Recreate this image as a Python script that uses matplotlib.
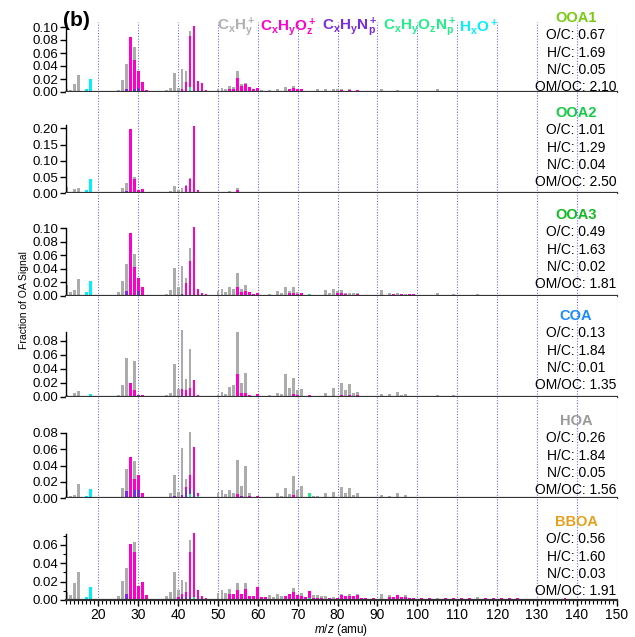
import numpy as np
import matplotlib
matplotlib.use("Agg")
import matplotlib.pyplot as plt
from matplotlib.ticker import MultipleLocator, FixedLocator

plt.rcParams['font.family'] = ['Liberation Sans', 'DejaVu Sans']
plt.rcParams['mathtext.fontset'] = 'custom'
plt.rcParams['mathtext.rm'] = 'Liberation Sans'
plt.rcParams['mathtext.bf'] = 'Liberation Sans:bold'
plt.rcParams['mathtext.it'] = 'Liberation Sans:italic'

# ---------------- data ----------------
mz = np.arange(12, 151)
factors = ['OOA1', 'OOA2', 'OOA3', 'COA', 'HOA', 'BBOA']
factor_colors = ['#77cc11', '#11cc44', '#11bb22', '#1a8cff', '#999999', '#e6a01e']
OC = [0.67, 1.01, 0.49, 0.13, 0.26, 0.56]
HC = [1.69, 1.29, 1.63, 1.84, 1.84, 1.60]
NC = [0.05, 0.04, 0.02, 0.01, 0.05, 0.03]
OMOC = [2.10, 2.50, 1.81, 1.35, 1.56, 1.91]

# segment heights per ion family (m/z: value)
OOA1_CH = {12: .005, 13: .003, 14: .012, 15: .026, 24: .001, 25: .003, 26: .018, 27: .039, 29: .020,
           37: .003, 38: .006, 39: .030, 40: .006, 41: .030, 42: .016, 43: .008, 50: .005, 51: .006,
           52: .004, 53: .005, 54: .003, 55: .011, 56: .002, 57: .002, 61: .002, 62: .002, 63: .003,
           65: .004, 66: .002, 67: .007, 69: .004, 74: .002, 75: .002, 76: .002, 77: .003, 78: .002,
           79: .003, 80: .002, 81: .002, 83: .002, 89: .001, 91: .002, 93: .001, 95: .001, 105: .002,
           115: .001}
OOA1_CHO = {28: .085, 29: .045, 30: .026, 31: .015, 32: .003, 41: .005, 42: .015, 43: .078, 44: .099,
            45: .017, 46: .014, 47: .003, 53: .005, 54: .005, 55: .022, 56: .010, 57: .012, 58: .008,
            59: .004, 60: .006, 61: .001, 68: .004, 69: .006, 70: .004, 71: .004, 72: .002, 75: .002,
            77: .002, 79: .002, 80: .002, 81: .003, 82: .002, 83: .003, 84: .002, 85: .003, 87: .002,
            91: .002, 95: .002, 97: .002, 99: .001, 101: .001, 105: .002, 107: .002, 109: .001,
            111: .001, 113: .001, 117: .001, 121: .001, 125: .001, 129: .001, 133: .001, 137: .001,
            141: .001, 145: .001, 149: .001}
OOA1_CHN = {27: .004, 29: .005, 30: .006, 42: .001, 43: .001, 44: .002}
OOA1_CHON = {43: .007, 44: .001, 73: .002}
OOA1_HO = {16: .001, 17: .005, 18: .020}

OOA2_CH = {12: .018, 13: .004, 14: .013, 15: .016, 25: .002, 26: .017, 27: .025, 29: .007, 37: .003,
           38: .007, 39: .023, 40: .009, 41: .014, 42: .003, 43: .002, 50: .003, 51: .003, 52: .002,
           53: .003, 54: .004, 55: .005, 57: .001, 65: .002, 67: .002, 69: .002, 77: .002, 79: .002,
           81: .002, 91: .002}
OOA2_CHO = {28: .197, 29: .043, 30: .009, 31: .012, 32: .002, 41: .002, 42: .022, 43: .041, 44: .205,
            45: .010, 46: .002, 53: .003, 55: .010, 56: .004, 57: .004, 58: .003, 59: .002, 60: .004,
            69: .003, 71: .002, 81: .002, 83: .002, 85: .002, 95: .001, 97: .001, 105: .001, 109: .001}
OOA2_CHN = {27: .007, 30: .002, 41: .001, 44: .002}
OOA2_CHON = {43: .004}
OOA2_HO = {17: .010, 18: .044}

OOA3_CH = {12: .016, 13: .005, 14: .008, 15: .025, 25: .005, 26: .022, 27: .040, 29: .019, 37: .002,
           38: .008, 39: .041, 40: .013, 41: .042, 42: .008, 43: .019, 50: .007, 51: .009, 52: .005,
           53: .013, 54: .009, 55: .022, 56: .005, 57: .009, 61: .001, 63: .002, 65: .006, 66: .003,
           67: .012, 68: .004, 69: .009, 70: .003, 77: .008, 78: .004, 79: .009, 80: .003, 81: .005,
           82: .002, 83: .004, 84: .002, 85: .001, 91: .008, 93: .003, 95: .003, 97: .002, 105: .003,
           109: .002, 115: .002}
OOA3_CHO = {28: .093, 29: .042, 30: .020, 31: .013, 32: .001, 42: .018, 43: .051, 44: .100, 45: .009,
            46: .003, 47: .002, 55: .012, 56: .005, 57: .006, 58: .005, 59: .002, 60: .004, 68: .003,
            69: .004, 70: .002, 71: .004, 72: .001, 80: .003, 81: .003, 82: .002, 84: .001, 85: .002,
            86: .001, 87: .001, 94: .002, 96: .002, 98: .002, 99: .002, 105: .001, 111: .001}
OOA3_CHN = {27: .006, 30: .006, 41: .002, 44: .001}
OOA3_CHON = {73: .002}
OOA3_HO = {16: .001, 17: .005, 18: .022}

COA_CH = {12: .002, 13: .001, 14: .005, 15: .008, 25: .002, 26: .017, 27: .056, 29: .041, 37: .003,
          38: .006, 39: .047, 40: .011, 41: .084, 42: .016, 43: .055, 50: .003, 51: .007, 52: .004,
          53: .014, 54: .017, 55: .060, 56: .014, 57: .028, 63: .002, 65: .006, 66: .004, 67: .032,
          68: .012, 69: .023, 70: .007, 71: .011, 77: .005, 79: .012, 81: .018, 82: .010, 83: .016,
          84: .006, 85: .004, 91: .004, 93: .004, 95: .006, 96: .003, 97: .004, 105: .002, 109: .002}
COA_CHO = {28: .019, 29: .010, 31: .003, 41: .009, 42: .009, 43: .013, 44: .024, 45: .003, 55: .033,
           56: .006, 57: .006, 58: .002, 60: .004, 69: .004, 70: .002, 73: .003, 81: .002, 83: .002,
           85: .002, 95: .001}
COA_CHN = {30: .003, 41: .002}
COA_CHON = {}
COA_HO = {17: .001, 18: .004}

HOA_CH = {12: .010, 13: .003, 14: .004, 15: .017, 25: .001, 26: .012, 27: .027, 29: .023, 36: .002,
          37: .002, 38: .006, 39: .026, 40: .006, 41: .057, 42: .010, 43: .053, 50: .007, 51: .010,
          52: .005, 53: .008, 54: .006, 55: .042, 56: .012, 57: .039, 58: .003, 59: .002, 61: .001,
          62: .002, 63: .002, 65: .006, 66: .003, 67: .013, 68: .005, 69: .023, 70: .010, 71: .015,
          74: .003, 75: .003, 77: .006, 79: .008, 81: .012, 82: .006, 83: .010, 84: .004, 85: .006,
          91: .004, 93: .003, 95: .005, 97: .004, 105: .002, 109: .002}
HOA_CHO = {28: .050, 29: .013, 30: .018, 31: .006, 42: .004, 43: .015, 44: .054, 45: .003, 53: .002,
           55: .003, 58: .003, 60: .003, 69: .004, 81: .002, 83: .002, 95: .001}
HOA_CHN = {27: .009, 29: .010, 30: .010, 39: .003, 40: .002, 41: .004, 42: .010, 43: .008, 44: .008,
           55: .002, 56: .003}
HOA_CHON = {43: .005, 45: .003, 73: .007}
HOA_HO = {17: .003, 18: .011}

BBOA_CH = {12: .009, 13: .005, 14: .018, 15: .031, 25: .004, 26: .021, 27: .029, 29: .011, 37: .004,
           38: .009, 39: .031, 40: .008, 41: .015, 42: .011, 43: .013, 50: .008, 51: .011, 52: .008,
           53: .006, 55: .008, 57: .007, 63: .005, 64: .003, 65: .006, 66: .004, 69: .004, 71: .004,
           74: .003, 75: .003, 76: .002, 77: .004, 79: .003, 81: .002, 83: .002, 85: .002, 91: .006,
           93: .002, 97: .002, 105: .002, 115: .003}
BBOA_CHO = {28: .061, 29: .052, 30: .015, 31: .020, 32: .005, 40: .003, 41: .004, 42: .006, 43: .049,
            44: .070, 45: .011, 46: .004, 47: .002, 53: .006, 54: .006, 55: .011, 56: .007, 57: .012,
            58: .004, 59: .004, 60: .014, 61: .003, 62: .003, 67: .004, 68: .007, 69: .009, 70: .005,
            71: .004, 72: .003, 73: .008, 74: .002, 75: .002, 76: .002, 78: .002, 80: .002, 81: .005,
            82: .004, 83: .004, 84: .004, 85: .005, 86: .002, 87: .002, 89: .002, 93: .003, 94: .003,
            95: .005, 96: .003, 97: .003, 98: .002, 99: .002, 101: .002, 103: .002, 107: .002,
            109: .002, 111: .002, 113: .002, 117: .002, 119: .002, 121: .002, 123: .002, 125: .002,
            127: .001, 129: .001, 131: .001, 133: .001, 135: .001, 137: .002, 139: .001, 141: .001,
            143: .001, 145: .001, 147: .001, 149: .001}
BBOA_CHN = {27: .006, 41: .003, 42: .003, 43: .003}
BBOA_CHON = {44: .003, 73: .002}
BBOA_HO = {16: .001, 17: .003, 18: .014}

panels = [
    (OOA1_CHON, OOA1_CHN, OOA1_CHO, OOA1_CH, OOA1_HO),
    (OOA2_CHON, OOA2_CHN, OOA2_CHO, OOA2_CH, OOA2_HO),
    (OOA3_CHON, OOA3_CHN, OOA3_CHO, OOA3_CH, OOA3_HO),
    (COA_CHON, COA_CHN, COA_CHO, COA_CH, COA_HO),
    (HOA_CHON, HOA_CHN, HOA_CHO, HOA_CH, HOA_HO),
    (BBOA_CHON, BBOA_CHN, BBOA_CHO, BBOA_CH, BBOA_HO),
]
fam_colors = ['#22ee88', '#7b2be2', '#ff00cc', '#acacac', '#00f0ff']

legend_texts = [r'$\mathbf{C_xH_y^+}$', r'$\mathbf{C_xH_yO_z^+}$', r'$\mathbf{C_xH_yN_p^+}$',
                r'$\mathbf{C_xH_yO_zN_p^+}$', r'$\mathbf{H_xO^+}$']
legend_colors = ['#b0b0b0', '#ff00cc', '#7b2be2', '#22ee88', '#00f0ff']

# ---------------- layout (pixels) ----------------
W, H = 635, 637
fig = plt.figure(figsize=(W / 100, H / 100), dpi=100)
left_px, right_px = 66, 617
bottoms = [92, 193.3, 295.5, 396.7, 498.3, 600]
tops = [22, 92, 193.3, 295.5, 396.7, 498.3]
px_per_unit = [650, 325, 674, 700, 820, 917]
yticks = [np.arange(0, 0.101, 0.02), np.arange(0, 0.201, 0.05), np.arange(0, 0.101, 0.02),
          np.arange(0, 0.081, 0.02), np.arange(0, 0.081, 0.02), np.arange(0, 0.061, 0.02)]
spine_top = [0.1066, 0.21, 0.10, 0.093, 0.08, 0.072]
title_y = [18, 113, 215, 316, 421, 522]

for i in range(6):
    b, t = bottoms[i], tops[i]
    ax = fig.add_axes([left_px / W, 1 - b / H, (right_px - left_px) / W, (b - t) / H])
    ax.set_xlim(11.9, 150.05)
    ax.set_ylim(0, (b - t) / px_per_unit[i])
    for xv in range(20, 151, 10):
        ax.axvline(xv, color='#6b6bff', lw=0.8, ls=(0, (1, 1.5)), zorder=0)
    bottom = np.zeros(len(mz))
    for fam, col in zip(panels[i], fam_colors):
        vals = np.array([fam.get(int(m), 0.0) for m in mz])
        ax.bar(mz, vals, width=0.72, bottom=bottom, color=col, linewidth=0, zorder=2)
        bottom = bottom + vals
    for s in ['top', 'right']:
        ax.spines[s].set_visible(False)
    ax.spines['left'].set_bounds(0, spine_top[i])
    ax.spines['left'].set_linewidth(1.0)
    ax.spines['bottom'].set_linewidth(1.6)
    ax.spines['bottom'].set_color('#333333')
    ax.spines['bottom'].set_zorder(3)
    ax.set_yticks(yticks[i])
    ax.set_yticklabels(['%.2f' % v for v in yticks[i]])
    ax.tick_params(axis='y', direction='out', length=4, width=1, labelsize=9.5, pad=1.5)
    if i == 5:
        ax.yaxis.set_minor_locator(FixedLocator([0.01, 0.03, 0.05, 0.07]))
        ax.tick_params(axis='y', which='minor', direction='out', length=2.5, width=0.8)
        ax.set_xticks(range(20, 151, 10))
        ax.xaxis.set_minor_locator(MultipleLocator(1))
        ax.tick_params(axis='x', which='major', direction='out', length=4, width=1, labelsize=10, pad=1.5)
        ax.tick_params(axis='x', which='minor', direction='out', length=3, width=0.8)
    else:
        ax.set_xticks([])
    # factor annotations
    ty = title_y[i]
    fig.text(576 / W, 1 - ty / H, factors[i], color=factor_colors[i], fontsize=10.5,
             fontweight='bold', ha='center', va='center')
    lines = ['O/C: %.2f' % OC[i], 'H/C: %.2f' % HC[i], 'N/C: %.2f' % NC[i], 'OM/OC: %.2f' % OMOC[i]]
    for k, s in enumerate(lines):
        fig.text(576 / W, 1 - (ty + 17.3 * (k + 1)) / H, s, color='black', fontsize=10,
                 ha='center', va='center')

fig.text(76 / W, 1 - 20 / H, '(b)', fontsize=15, fontweight='bold', ha='center', va='center')
leg_x = [217, 260, 322, 383, 459]
for s, c, x in zip(legend_texts, legend_colors, leg_x):
    fig.text(x / W, 1 - 27 / H, s, color=c, fontsize=11, ha='left', va='center')

fig.text(24 / W, 1 - 300 / H, 'Fraction of OA Signal', rotation=90, fontsize=7.5,
         ha='center', va='center')
fig.text(341 / W, 1 - 630 / H, r'$m/z$ (amu)', fontsize=8.5, ha='center', va='center')

fig.savefig('out.png', dpi=100)
